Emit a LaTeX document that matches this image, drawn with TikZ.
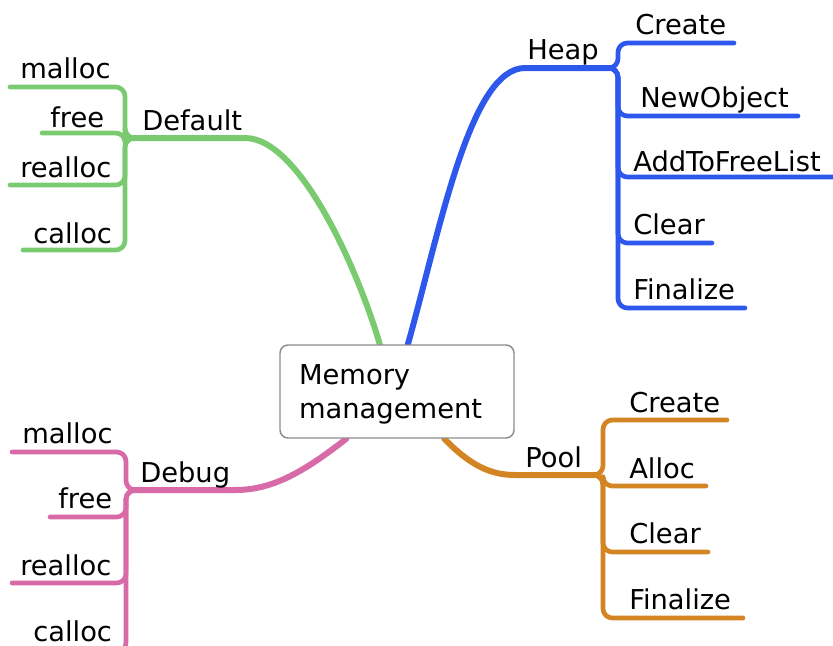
\documentclass[tikz,border=0pt]{standalone}
\usepackage{fontspec}
\setmainfont{DejaVu Sans}
\usetikzlibrary{positioning, backgrounds}
\definecolor{ramoverde}{RGB}{122,203,112}
\definecolor{ramoazul}{RGB}{45,88,235}
\definecolor{ramolaranja}{RGB}{212,133,35}
\definecolor{ramorosa}{RGB}{216,106,168}

\begin{document}
\begin{tikzpicture}[x = 0.75pt, y = -0.75pt,
	rotulo/.style = {anchor = base west, inner sep = 0pt, font = \fontsize{20.5}{24.75}\selectfont},
	caixa/.style = {draw = black!45, fill = white, line width = 1.1pt, rounded corners = 6pt, minimum height = 69.75pt, text width = 147pt, inner xsep = 14.25pt, align = left, font = \fontsize{20.5}{25.5}\selectfont},
	galho/.style = {line width = 4.5pt, line cap = round, line join = round},
	folha/.style = {line width = 3.5pt, line cap = round, line join = round, rounded corners = 7pt}]

	\useasboundingbox (0, 0) rectangle (833, 646);

	% Nó central
	\node[caixa] (memoria) at (397, 391.5) {\rule{0pt}{19pt}Memory\\management};

	% Rótulos dos ramos
	\node[rotulo] (default) at (142, 130) {Default};
	\node[rotulo] (heap)    at (527,  60) {Heap};
	\node[rotulo] (pool)    at (525, 467) {Pool};
	\node[rotulo] (debug)   at (140, 482) {Debug};

	% Folhas - Default
	\node[rotulo] (dmalloc)  at ( 20,  78) {malloc};
	\node[rotulo] (dfree)    at ( 50, 127) {free};
	\node[rotulo] (drealloc) at ( 20, 177) {realloc};
	\node[rotulo] (dcalloc)  at ( 33, 243) {calloc};

	% Folhas - Heap
	\node[rotulo] (hcreate)  at (635,  35) {Create};
	\node[rotulo] (hnew)     at (640, 107) {NewObject};
	\node[rotulo] (hadd)     at (633, 171) {AddToFreeList};
	\node[rotulo] (hclear)   at (633, 234) {Clear};
	\node[rotulo] (hfinal)   at (633, 299) {Finalize};

	% Folhas - Pool
	\node[rotulo] (pcreate)  at (629, 412) {Create};
	\node[rotulo] (palloc)   at (629, 478) {Alloc};
	\node[rotulo] (pclear)   at (629, 543) {Clear};
	\node[rotulo] (pfinal)   at (629, 609) {Finalize};

	% Folhas - Debug
	\node[rotulo] (gmalloc)  at ( 22, 443) {malloc};
	\node[rotulo] (gfree)    at ( 58, 508) {free};
	\node[rotulo] (grealloc) at ( 20, 575) {realloc};
	\node[rotulo] (gcalloc)  at ( 33, 641) {calloc};

	% Junções e pontas das linhas
	\coordinate (dJ) at (131, 138);
	\coordinate (hJ) at (610,  68);
	\coordinate (pJ) at (595, 475);
	\coordinate (gJ) at (132, 490);

	\coordinate (dm) at ( 10,  87);
	\coordinate (df) at ( 42, 133);
	\coordinate (dr) at ( 10, 185);
	\coordinate (dc) at ( 23, 250);

	\coordinate (hc) at (734,  43);
	\coordinate (hn) at (798, 116);
	\coordinate (ha) at (833, 177);
	\coordinate (hl) at (712, 243);
	\coordinate (hf) at (745, 308);

	\coordinate (pc) at (727, 420);
	\coordinate (pa) at (706, 486);
	\coordinate (pl) at (708, 552);
	\coordinate (pf) at (743, 618);

	\coordinate (gm) at ( 12, 452);
	\coordinate (gf) at ( 50, 517);
	\coordinate (gr) at ( 12, 583);
	\coordinate (gc) at ( 14, 652);

	\begin{scope}[on background layer]
		% Ramos principais
		\draw[galho, ramoverde]   (memoria.110) .. controls (358, 270) and (300, 138) .. (245, 138) -- (dJ);
		\draw[galho, ramoazul]    (memoria.77)  .. controls (440, 230) and (470,  68) .. (525,  68) -- (hJ);
		\draw[galho, ramolaranja] (memoria.-45) .. controls (470, 465) and (490, 475) .. (515, 475) -- (pJ);
		\draw[galho, ramorosa]    (memoria.-137) .. controls (300, 475) and (270, 490) .. (235, 490) -- (gJ);

		% Ligações das folhas (chaves)
		\foreach \p in {dm, df, dr, dc} \draw[folha, ramoverde] (dJ) -- ++(-6, 0) |- (\p);
		\foreach \p in {hc, hn, ha, hl, hf} \draw[folha, ramoazul] (hJ) -- ++(8, 0) |- (\p);
		\foreach \p in {pc, pa, pl, pf} \draw[folha, ramolaranja] (pJ) -- ++(8, 0) |- (\p);
		\foreach \p in {gm, gf, gr, gc} \draw[folha, ramorosa] (gJ) -- ++(-6, 0) |- (\p);
	\end{scope}

\end{tikzpicture}
\end{document}
